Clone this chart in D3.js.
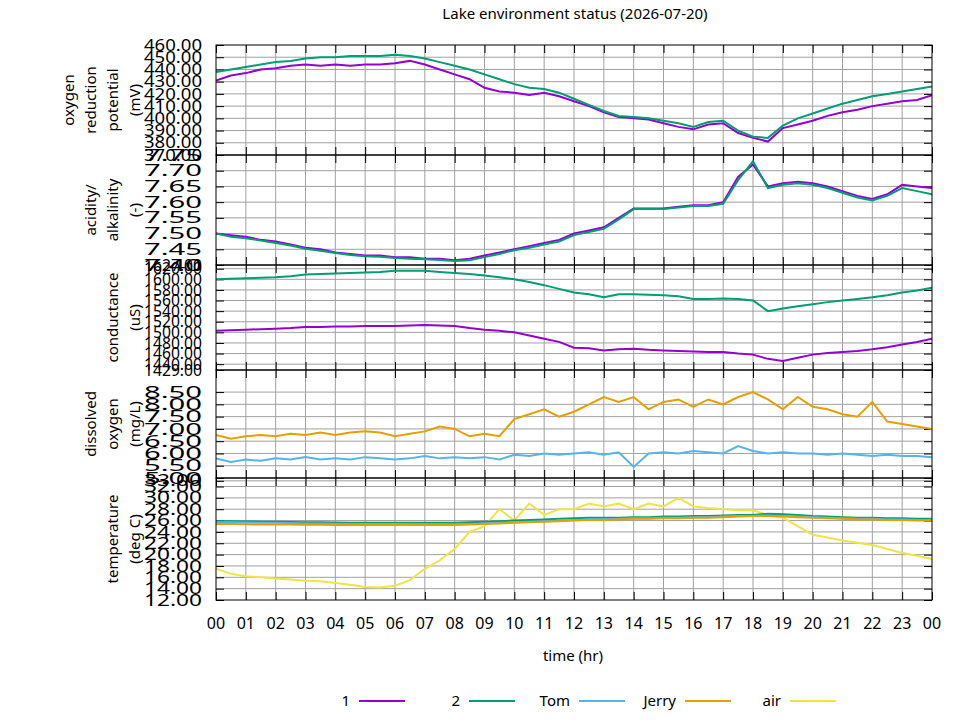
<!DOCTYPE html>
<html lang="en">
<head>
<meta charset="utf-8">
<title>Lake environment status</title>
<script src="https://cdn.jsdelivr.net/npm/d3@7"></script>
<style>
  body { margin: 0; background: #fff; }
  text { font-family: "Noto Sans", sans-serif; fill: #000; }
</style>
</head>
<body>
<svg id="chart" width="960" height="720"></svg>
<script>
// half-hour samples, 00:00 .. 24:00
var hours = d3.range(0, 24.01, 0.5);
var hourLabels = ["00","01","02","03","04","05","06","07","08","09","10","11","12","13","14","15","16","17","18","19","20","21","22","23","00"];

var orp1 = [431,435,437,440,441,443,444,443,444,443,444,444,445,447,444,440,436,432,425,422,421,419,421,418,414,410,405,401,400,399,396,393,391,395,396,388,384,381,392,395,398,402,405,407,410,412,414,415,419];
var orp2 = [438,440,442,444,446,447,449,450,450,451,451,451,452,451,449,446,443,440,436,432,428,425,424,421,416,411,406,402,401,400,398,396,393,397,398,390,385,384,394,400,404,408,412,415,418,420,422,424,426];

var ph1 = [7.50,7.495,7.49,7.48,7.475,7.465,7.455,7.45,7.44,7.435,7.43,7.43,7.425,7.425,7.42,7.42,7.415,7.42,7.43,7.44,7.45,7.46,7.47,7.48,7.50,7.51,7.52,7.55,7.58,7.58,7.58,7.585,7.59,7.59,7.60,7.68,7.72,7.65,7.66,7.665,7.66,7.65,7.635,7.62,7.61,7.625,7.655,7.65,7.645];
var ph2 = [7.50,7.49,7.485,7.478,7.47,7.462,7.452,7.445,7.438,7.432,7.428,7.426,7.422,7.42,7.418,7.416,7.413,7.415,7.425,7.435,7.447,7.455,7.465,7.475,7.495,7.505,7.515,7.545,7.578,7.578,7.578,7.583,7.588,7.588,7.595,7.67,7.73,7.645,7.655,7.66,7.655,7.645,7.63,7.615,7.605,7.62,7.645,7.635,7.625];

var cond1 = [1503,1504,1505,1506,1507,1508,1510,1510,1511,1511,1512,1512,1512,1513,1514,1513,1512,1508,1505,1503,1500,1494,1488,1482,1471,1470,1466,1468,1469,1467,1466,1465,1464,1463,1463,1460,1458,1450,1446,1452,1458,1461,1463,1465,1468,1472,1477,1482,1488];
var cond2 = [1600,1601,1602,1603,1604,1606,1609,1610,1611,1612,1613,1614,1616,1616,1616,1614,1612,1610,1607,1604,1600,1595,1589,1582,1575,1572,1566,1572,1572,1571,1570,1568,1563,1563,1564,1563,1560,1540,1545,1549,1553,1557,1560,1563,1566,1570,1575,1579,1584];

var doTom = [5.8,5.65,5.75,5.7,5.8,5.75,5.85,5.75,5.8,5.75,5.85,5.8,5.75,5.8,5.9,5.8,5.85,5.8,5.85,5.75,5.95,5.9,6.0,5.95,6.0,6.05,5.95,6.05,5.45,6.0,6.05,6.0,6.1,6.05,6.0,6.3,6.1,6.0,6.05,6.0,6.0,5.95,6.0,5.95,5.9,5.95,5.9,5.9,5.85];
var doJerry = [6.75,6.6,6.7,6.75,6.7,6.8,6.75,6.85,6.75,6.85,6.9,6.85,6.7,6.8,6.9,7.1,7.0,6.7,6.8,6.7,7.4,7.6,7.8,7.5,7.7,8.0,8.3,8.1,8.3,7.8,8.1,8.2,7.9,8.2,8.0,8.3,8.5,8.2,7.8,8.3,7.9,7.8,7.6,7.5,8.1,7.3,7.2,7.1,7.0];

var temp2 = [25.9,25.9,25.85,25.8,25.8,25.75,25.7,25.7,25.65,25.6,25.6,25.6,25.6,25.6,25.6,25.6,25.6,25.7,25.8,25.9,26.0,26.1,26.2,26.3,26.4,26.5,26.5,26.5,26.6,26.6,26.7,26.7,26.8,26.8,26.9,27.0,27.0,27.2,27.1,27.0,26.8,26.7,26.6,26.5,26.5,26.4,26.4,26.3,26.3];
var tempTom = [25.7,25.7,25.65,25.6,25.6,25.55,25.5,25.5,25.45,25.4,25.4,25.4,25.4,25.4,25.35,25.35,25.35,25.4,25.5,25.6,25.7,25.8,25.9,26.0,26.1,26.2,26.2,26.3,26.4,26.4,26.5,26.5,26.6,26.6,26.7,26.8,26.8,26.9,26.8,26.7,26.6,26.5,26.4,26.3,26.3,26.2,26.2,26.1,26.1];
var tempJerry = [25.4,25.4,25.35,25.3,25.3,25.3,25.25,25.25,25.2,25.2,25.2,25.2,25.2,25.2,25.2,25.2,25.2,25.3,25.4,25.5,25.6,25.7,25.8,25.9,26.0,26.1,26.1,26.2,26.3,26.3,26.4,26.4,26.5,26.5,26.6,26.7,26.8,26.8,26.7,26.6,26.5,26.4,26.3,26.2,26.2,26.1,26.1,26.0,26.0];
var tempAir = [17.5,16.6,16.2,16.0,15.8,15.6,15.4,15.3,15.0,14.7,14.3,14.2,14.5,15.5,17.5,19.0,21.0,24.0,25.0,28.0,26.0,29.0,27.0,28.0,28.0,29.0,28.5,29.0,28.0,29.0,28.5,30.0,28.5,28.2,28.0,27.8,27.8,27.0,26.5,25.0,23.5,23.0,22.5,22.1,21.7,21.0,20.3,19.8,19.2];

var seriesNames = ["1","2","Tom","Jerry","air"];
var seriesColors = ["#9400d3","#009e73","#56b4e9","#e69f00","#f0e442"];

var panels = [
  { label: ["oxygen","reduction","potential","(mV)"], domain: [370,460], ticks: d3.range(370,460.1,10), lines: [[orp1,0],[orp2,1]] },
  { label: ["acidity/","alkalinity","(-)"], domain: [7.40,7.75], ticks: d3.range(7.40,7.751,0.05), lines: [[ph1,0],[ph2,1]] },
  { label: ["conductance","(uS)"], domain: [1429,1627], ticks: [1429].concat(d3.range(1440,1620.1,20)).concat([1627]), lines: [[cond1,0],[cond2,1]] },
  { label: ["dissolved","oxygen","(mg/L)"], domain: [5.0,9.4], ticks: d3.range(5.0,8.51,0.5), lines: [[doTom,2],[doJerry,3]] },
  { label: ["temperature","(deg C)"], domain: [12,33.5], ticks: d3.range(12,32.1,2).concat([33]), lines: [[tempAir,4],[temp2,1],[tempTom,2],[tempJerry,3]] }
];

var svg = d3.select("#chart");
var left = 216, right = 932;
var edges = [45,155,265,370,478,600];

var x = d3.scaleLinear().domain([0,24]).range([left,right]);

svg.append("text").attr("x",575).attr("y",19).attr("text-anchor","middle")
  .style("font-size","15px").text("Lake environment status (2026-07-20)");

panels.forEach(function(p, i) {
  var top = edges[i], bottom = edges[i+1];
  var y = d3.scaleLinear().domain(p.domain).range([bottom, top]);
  var g = svg.append("g");

  // grid
  g.selectAll(".gx").data(d3.range(1,24)).enter().append("line")
    .attr("x1", d => x(d)).attr("x2", d => x(d)).attr("y1", top).attr("y2", bottom)
    .attr("stroke","#a0a0a0").attr("stroke-width",1);
  g.selectAll(".gy").data(p.ticks.filter(t => t > p.domain[0] && t < p.domain[1])).enter().append("line")
    .attr("x1", left).attr("x2", right).attr("y1", d => y(d)).attr("y2", d => y(d))
    .attr("stroke","#a0a0a0").attr("stroke-width",1);

  // ticks (inward, mirrored)
  var yAxis = d3.axisLeft(y).tickValues(p.ticks).tickSize(-8).tickPadding(14)
    .tickFormat(d3.format(".2f"));
  var ya = g.append("g").attr("transform","translate("+left+",0)").call(yAxis);
  ya.select(".domain").remove();
  ya.selectAll("text").style("font-size","16px").attr("font-family","Noto Sans")
    .attr("textLength", 58).attr("lengthAdjust","spacingAndGlyphs");
  var yr = g.append("g").attr("transform","translate("+right+",0)").call(d3.axisRight(y).tickValues(p.ticks).tickSize(-8).tickFormat(""));
  yr.select(".domain").remove();

  var xt = g.append("g").attr("transform","translate(0,"+bottom+")").call(d3.axisBottom(x).ticks(24).tickSize(-8).tickFormat(""));
  xt.select(".domain").remove();
  var xb = g.append("g").attr("transform","translate(0,"+top+")").call(d3.axisTop(x).ticks(24).tickSize(-8).tickFormat(""));
  xb.select(".domain").remove();

  var line = d3.line().x((d, j) => x(hours[j])).y(d => y(d));
  var clip = "clip" + i;
  svg.append("clipPath").attr("id", clip).append("rect")
    .attr("x", left).attr("y", top).attr("width", right-left).attr("height", bottom-top);
  p.lines.forEach(function(l) {
    g.append("path").datum(l[0]).attr("d", line).attr("fill","none")
      .attr("stroke", seriesColors[l[1]]).attr("stroke-width",2)
      .attr("clip-path","url(#"+clip+")");
  });

  g.append("rect").attr("x",left).attr("y",top).attr("width",right-left).attr("height",bottom-top)
    .attr("fill","none").attr("stroke","#000").attr("stroke-width",1);

  // y label
  var cy = (top + bottom) / 2, n = p.label.length;
  p.label.forEach(function(s, k) {
    var lx = 140 - (n - 1 - k) * 22;
    g.append("text").attr("transform","translate("+lx+","+cy+") rotate(-90)")
      .attr("text-anchor","middle").style("font-size","15px").text(s);
  });
});

// bottom hour labels
svg.selectAll(".hl").data(hourLabels).enter().append("text")
  .attr("x", (d, i) => x(i)).attr("y", 629).attr("text-anchor","middle")
  .style("font-size","16px").text(d => d);

svg.append("text").attr("x",573).attr("y",661).attr("text-anchor","middle")
  .style("font-size","15px").text("time (hr)");

// legend
var legendX = [350, 460, 570, 676, 781];
seriesNames.forEach(function(name, i) {
  svg.append("text").attr("x", legendX[i]).attr("y", 706).attr("text-anchor","end")
    .style("font-size","15px").text(name);
  svg.append("line").attr("x1", legendX[i]+9).attr("x2", legendX[i]+55)
    .attr("y1", 701).attr("y2", 701).attr("stroke", seriesColors[i]).attr("stroke-width",2);
});
</script>
</body>
</html>
